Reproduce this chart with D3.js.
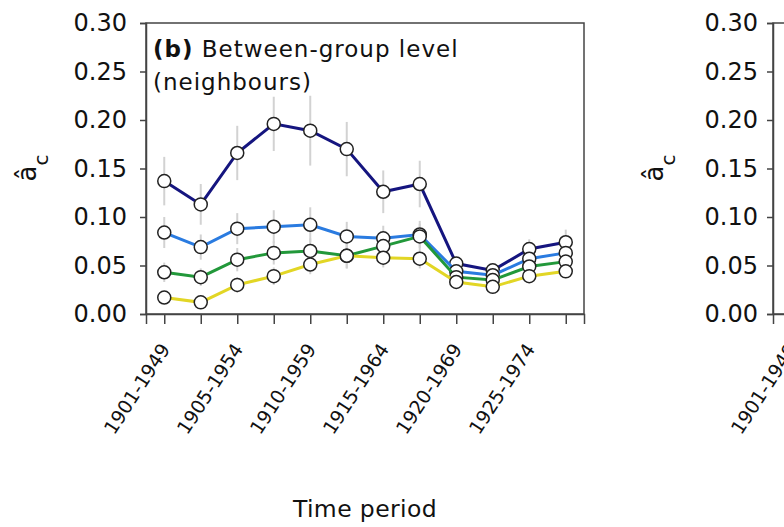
<!DOCTYPE html>
<html>
<head>
<meta charset="utf-8">
<script src="https://cdn.jsdelivr.net/npm/d3@7"></script>
<style>
  body { margin: 0; background: #fff; }
  svg { display: block; }
</style>
</head>
<body>
<div class="chart"></div>
<script>
// ---- data ----
var tickLabels = ["1901-1949", "", "1905-1954", "", "1910-1959", "", "1915-1964", "", "1920-1969", "", "1925-1974", ""];
var yTicks = [0, 0.05, 0.10, 0.15, 0.20, 0.25, 0.30];

var navyVals   = [0.137, 0.113, 0.166, 0.196, 0.189, 0.170, 0.126, 0.134, 0.052, 0.045, 0.067, 0.074];
var blueVals   = [0.084, 0.069, 0.088, 0.090, 0.092, 0.080, 0.078, 0.082, 0.044, 0.040, 0.057, 0.063];
var greenVals  = [0.043, 0.038, 0.056, 0.063, 0.065, 0.060, 0.070, 0.080, 0.038, 0.035, 0.049, 0.054];
var yellowVals = [0.017, 0.012, 0.030, 0.039, 0.051, 0.060, 0.058, 0.057, 0.033, 0.028, 0.039, 0.044];

var navyErr   = [0.025, 0.021, 0.028, 0.028, 0.036, 0.028, 0.022, 0.024, 0.006, 0.005, 0.010, 0.013];
var blueErr   = [0.016, 0.013, 0.016, 0.017, 0.018, 0.015, 0.013, 0.014, 0.005, 0.005, 0.008, 0.010];
var greenErr  = [0.010, 0.009, 0.012, 0.012, 0.013, 0.013, 0.012, 0.013, 0.004, 0.004, 0.007, 0.008];
var yellowErr = [0.006, 0.005, 0.008, 0.009, 0.010, 0.013, 0.010, 0.010, 0.004, 0.003, 0.006, 0.007];

// ---- layout ----
var width = 784, height = 527;
var boxLeft = 146, boxWidth = 438, boxTop = 23, boxBottom = 314;
var panelGap = 627;
var axisColor = '#444';
var fontFam = '"DejaVu Sans", sans-serif';

var series = [
	{vals: navyVals,   err: navyErr,   color: '#15157f'},
	{vals: blueVals,   err: blueErr,   color: '#2a7be0'},
	{vals: greenVals,  err: greenErr,  color: '#22983a'},
	{vals: yellowVals, err: yellowErr, color: '#e2d625'}
];

var svg = d3.select('.chart').append('svg')
	.attr('width', width)
	.attr('height', height);

var y = d3.scaleLinear().domain([0, 0.30]).range([boxBottom, boxTop]);

function drawPanel(offset, withData, withTitle){
	var x = d3.scalePoint()
		.domain(d3.range(tickLabels.length))
		.range([boxLeft + offset, boxLeft + offset + boxWidth])
		.padding(0.5);

	var g = svg.append('g');

	if(withData){
		// error bars first, behind everything
		series.forEach(function(s){
			g.selectAll(null).data(s.vals).enter().append('line')
				.attr('x1', function(d, i){ return x(i); })
				.attr('x2', function(d, i){ return x(i); })
				.attr('y1', function(d, i){ return y(d + s.err[i]); })
				.attr('y2', function(d, i){ return y(d - s.err[i]); })
				.attr('stroke', '#d2d2d2')
				.attr('stroke-width', 2);
		});
		var line = d3.line()
			.x(function(d, i){ return x(i); })
			.y(function(d){ return y(d); });
		series.forEach(function(s){
			g.append('path')
				.datum(s.vals)
				.attr('d', line)
				.attr('fill', 'none')
				.attr('stroke', s.color)
				.attr('stroke-width', 3);
			g.selectAll(null).data(s.vals).enter().append('circle')
				.attr('cx', function(d, i){ return x(i); })
				.attr('cy', function(d){ return y(d); })
				.attr('r', 6.5)
				.attr('fill', 'white')
				.attr('stroke', '#222')
				.attr('stroke-width', 1.5);
		});
	}

	// frame
	g.append('rect')
		.attr('x', boxLeft + offset)
		.attr('y', boxTop)
		.attr('width', boxWidth)
		.attr('height', boxBottom - boxTop)
		.attr('fill', 'none')
		.attr('stroke', axisColor)
		.attr('stroke-width', 1.5);

	// y axis
	var yAxis = g.append('g')
		.attr('transform', 'translate(' + (boxLeft + offset) + ',0)')
		.call(d3.axisLeft(y).tickValues(yTicks).tickFormat(d3.format('.2f')).tickSize(6).tickPadding(offset ? 9 : 13));
	yAxis.select('.domain').attr('stroke', axisColor).attr('stroke-width', 1.5);
	yAxis.selectAll('.tick line').attr('stroke', axisColor).attr('stroke-width', 1.5);
	yAxis.selectAll('.tick text')
		.attr('font-family', fontFam)
		.attr('font-size', 24)
		.attr('fill', '#111');

	// x axis
	var xAxis = g.append('g')
		.attr('transform', 'translate(0,' + boxBottom + ')')
		.call(d3.axisBottom(x).tickSize(10).tickFormat(function(i){ return tickLabels[i]; }));
	xAxis.select('.domain').attr('stroke', axisColor).attr('stroke-width', 1.5);
	xAxis.selectAll('.tick line').attr('stroke', axisColor).attr('stroke-width', 1.5);
	xAxis.selectAll('.tick text')
		.attr('font-family', fontFam)
		.attr('font-size', 19)
		.attr('fill', '#111')
		.attr('text-anchor', 'end')
		.attr('dy', null)
		.attr('y', null)
		.attr('transform', 'translate(6,35) rotate(-57)');

	// y label
	var yl = g.append('text')
		.attr('transform', 'translate(' + (boxLeft + offset - 110) + ',' + 168 + ') rotate(-90)')
		.attr('text-anchor', 'middle')
		.attr('font-family', fontFam)
		.attr('font-size', 26)
		.attr('fill', '#111');
	yl.append('tspan').text('â');
	yl.append('tspan').attr('baseline-shift', 'sub').attr('font-size', 20).text('c');

	if(withTitle){
		var t1 = g.append('text')
			.attr('x', boxLeft + offset + 7)
			.attr('y', 57)
			.attr('font-family', fontFam)
			.attr('font-size', 23)
			.attr('letter-spacing', 1)
			.attr('fill', '#111');
		t1.append('tspan').attr('font-weight', 'bold').text('(b)');
		t1.append('tspan').text(' Between-group level');
		g.append('text')
			.attr('x', boxLeft + offset + 7)
			.attr('y', 90)
			.attr('font-family', fontFam)
			.attr('font-size', 23)
			.attr('letter-spacing', 1)
			.attr('fill', '#111')
			.text('(neighbours)');
	}
}

drawPanel(0, true, true);
drawPanel(panelGap, false, false);

svg.append('text')
	.attr('x', 365)
	.attr('y', 517)
	.attr('text-anchor', 'middle')
	.attr('font-family', fontFam)
	.attr('font-size', 23.5)
	.attr('letter-spacing', 0.4)
	.attr('fill', '#111')
	.text('Time period');
</script>
</body>
</html>
